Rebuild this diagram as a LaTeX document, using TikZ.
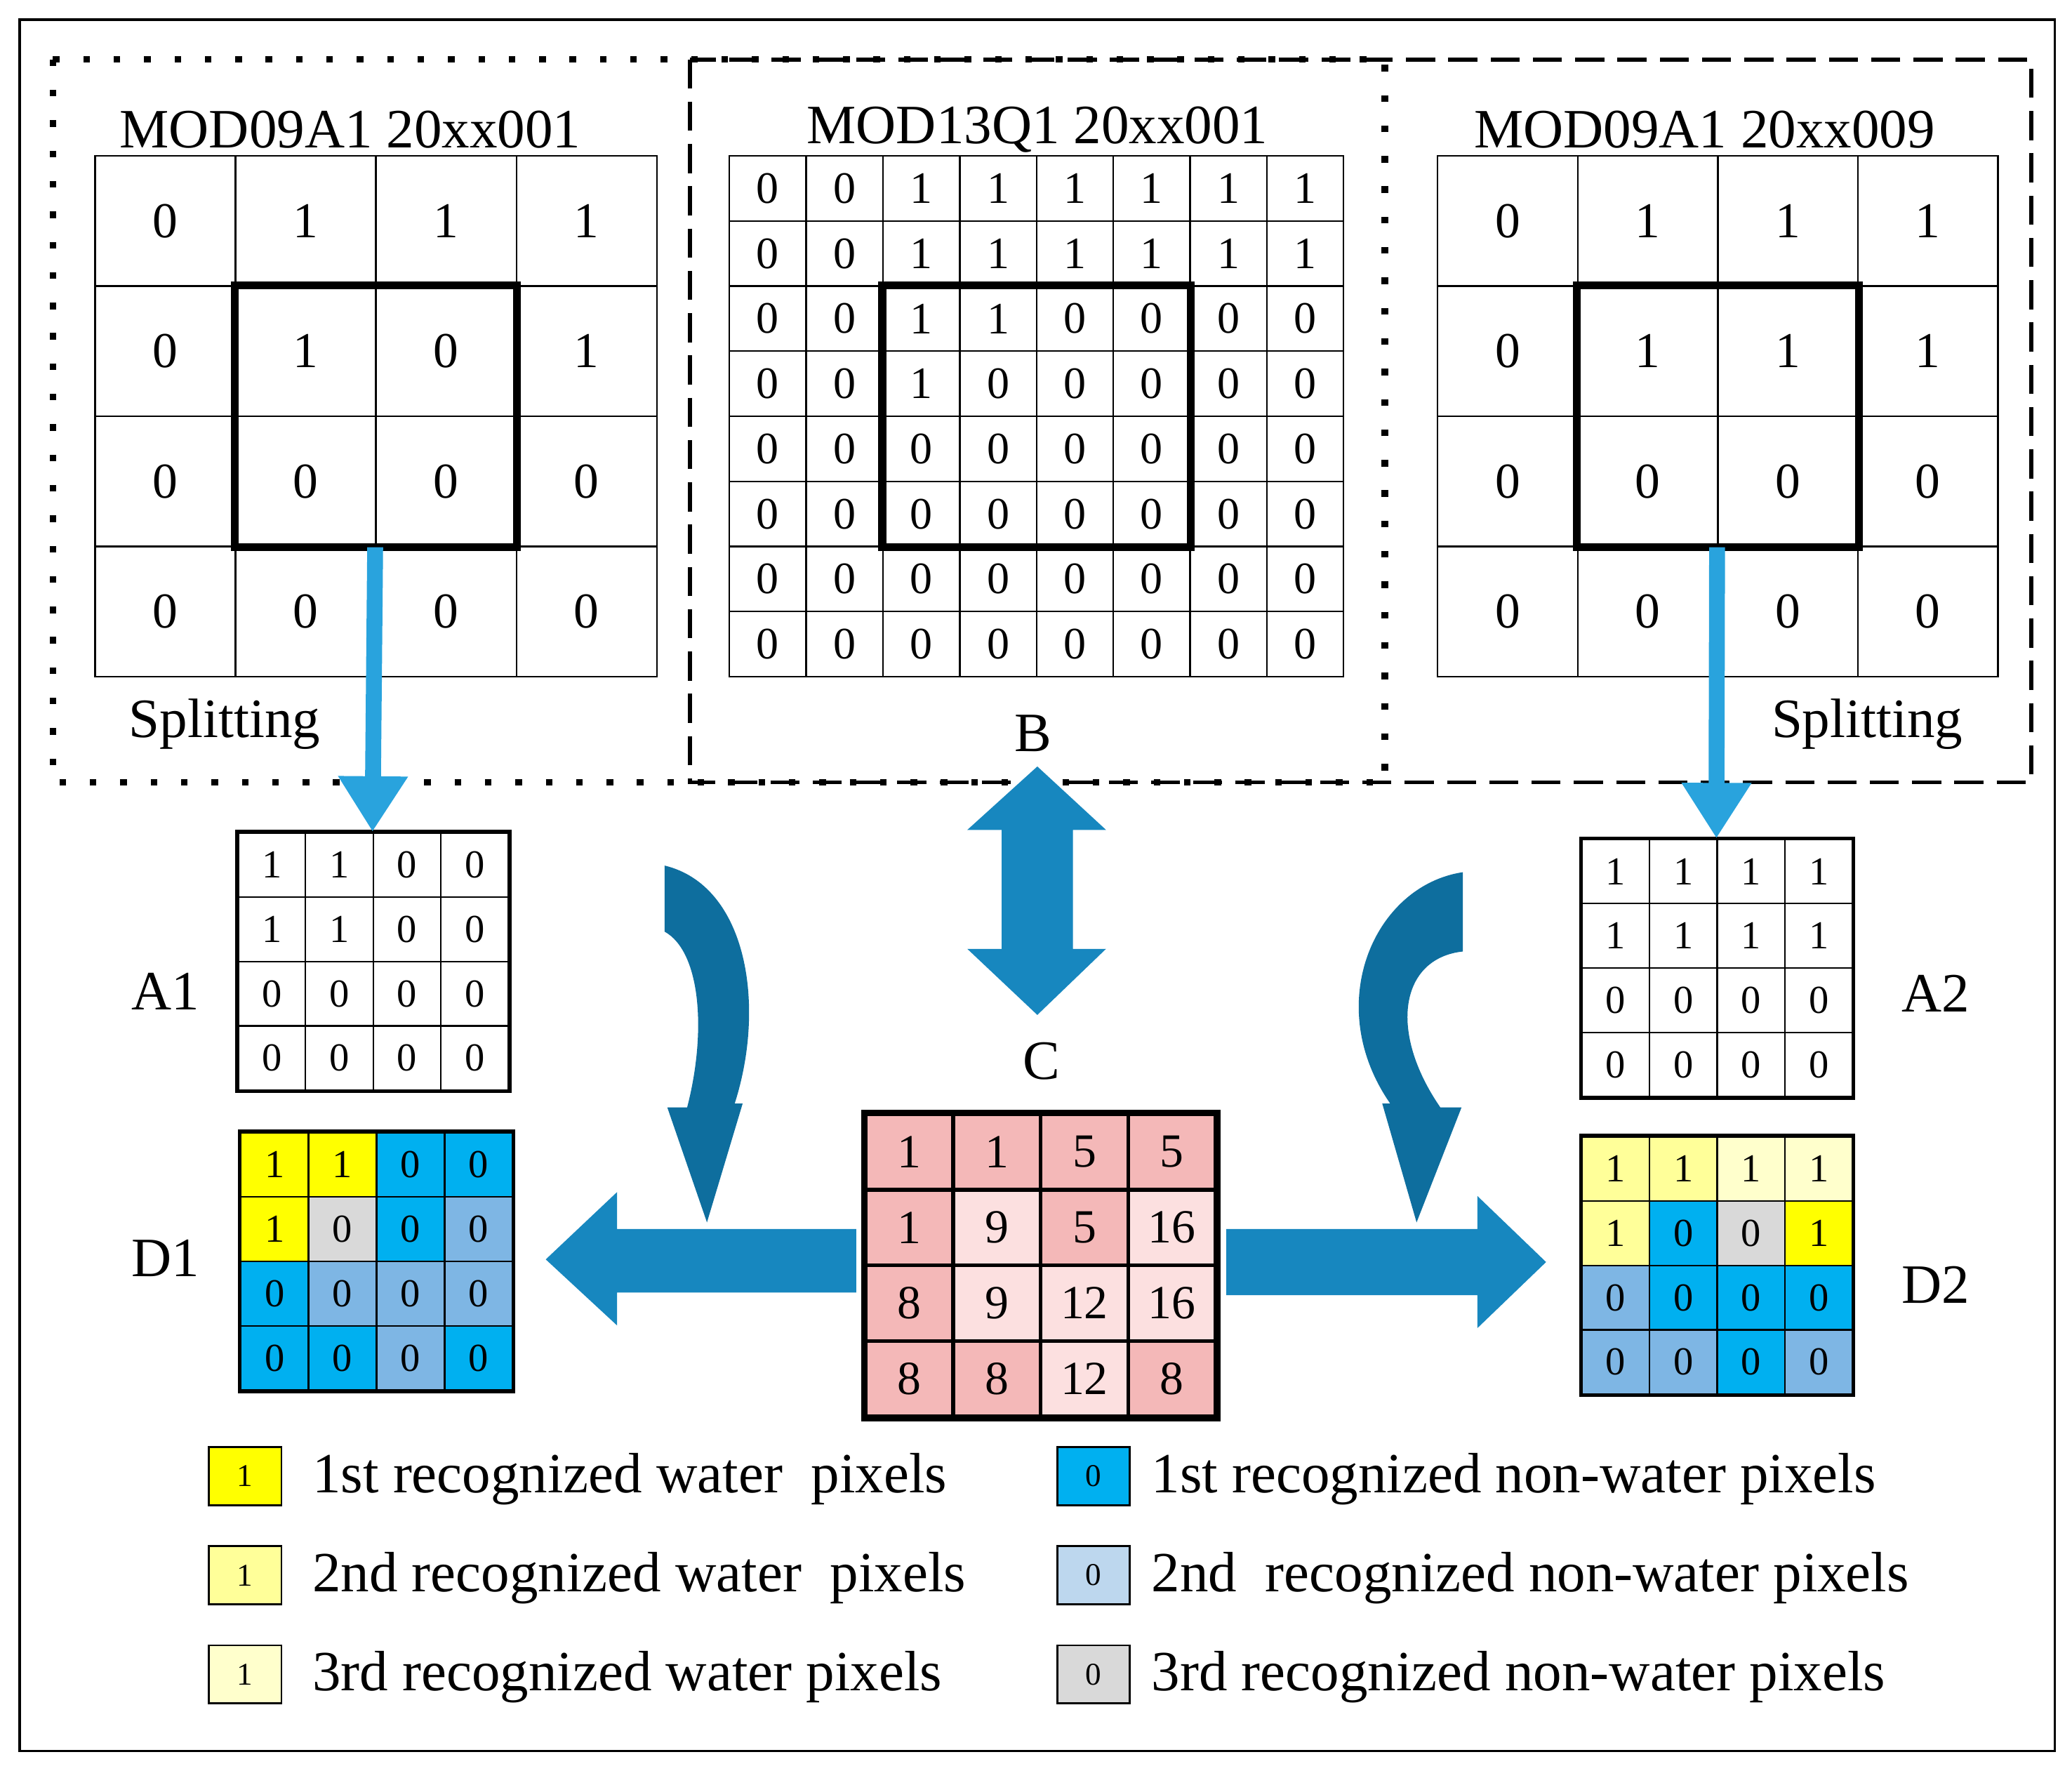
\documentclass[tikz,border=0pt]{standalone}
\usepackage{fontspec}
\usetikzlibrary{arrows.meta}
\setmainfont{Liberation Serif}
\begin{document}
\begin{tikzpicture}[x=1pt,y=-1pt,
  cell/.style={draw,line width=1.2pt,inner sep=0pt,anchor=center},
  lbl/.style={font=\fontsize{42}{42}\selectfont},
  leg/.style={font=\fontsize{43}{43}\selectfont},
  thick box/.style={draw,line width=6pt},
  splitarrow/.style={draw=cSplit,line width=12pt,-{Triangle[length=42pt,width=50pt]}},
  bigarrow/.style={fill=cArrow,draw=none},
  curvearrow/.style={fill=cCurve,draw=none}]
\definecolor{cY}{HTML}{FFFF00}
\definecolor{cL}{HTML}{FFFF99}
\definecolor{cP}{HTML}{FFFFCC}
\definecolor{cB}{HTML}{00B0F0}
\definecolor{cS}{HTML}{7EB6E4}
\definecolor{cT}{HTML}{BDD7EE}
\definecolor{cG}{HTML}{D9D9D9}
\definecolor{cD}{HTML}{F4B8B8}
\definecolor{cF}{HTML}{FCE0E0}
\definecolor{cSplit}{HTML}{29A3DD}
\definecolor{cArrow}{HTML}{1787BF}
\definecolor{cCurve}{HTML}{0E6E9E}
\useasboundingbox (0,0) rectangle (1568,1340);
\fill[white] (0,0) rectangle (1568,1340);
\draw[line width=2pt] (15,15) rectangle (1555,1325);
\draw[line width=5pt,dash pattern=on 5pt off 18pt] (40,45) rectangle (1048,592);
\draw[line width=3pt,dash pattern=on 22pt off 10pt] (522,45) rectangle (1537,592);
% left top grid
\foreach \row [count=\i] in {{0,1,1,1},{0,1,0,1},{0,0,0,0},{0,0,0,0}}
  \foreach \v [count=\j] in \row
    \node[cell,minimum width=106.25pt,minimum height=98.5pt,font=\fontsize{38}{38}\selectfont] (L-\i-\j) at ({72+(\j-0.5)*106.25},{118+(\i-0.5)*98.5}) {\v};
\draw[thick box] (L-2-2.north west) rectangle (L-3-3.south east);
\node[lbl] (tL) at (265,98) {MOD09A1 20xx001};
% middle grid
\foreach \row [count=\i] in {{0,0,1,1,1,1,1,1},{0,0,1,1,1,1,1,1},{0,0,1,1,0,0,0,0},{0,0,1,0,0,0,0,0},{0,0,0,0,0,0,0,0},{0,0,0,0,0,0,0,0},{0,0,0,0,0,0,0,0},{0,0,0,0,0,0,0,0}}
  \foreach \v [count=\j] in \row
    \node[cell,minimum width=58.1pt,minimum height=49.25pt,font=\fontsize{34}{34}\selectfont] (M-\i-\j) at ({552+(\j-0.5)*58.1},{118+(\i-0.5)*49.25}) {\v};
\draw[thick box] (M-3-3.north west) rectangle (M-6-6.south east);
\node[lbl] (tM) at (785,98) {MOD13Q1 20xx001};
% right top grid
\foreach \row [count=\i] in {{0,1,1,1},{0,1,1,1},{0,0,0,0},{0,0,0,0}}
  \foreach \v [count=\j] in \row
    \node[cell,minimum width=106pt,minimum height=98.5pt,font=\fontsize{38}{38}\selectfont] (R-\i-\j) at ({1088+(\j-0.5)*106},{118+(\i-0.5)*98.5}) {\v};
\draw[thick box] (R-2-2.north west) rectangle (R-3-3.south east);
\node[lbl] (tR) at (1290,98) {MOD09A1 20xx009};
\node[lbl] (spL) at (170,548) {Splitting};
\node[lbl] (spR) at (1413,548) {Splitting};
\node[lbl] (lB) at (782,555) {B};
% A1, A2
\foreach \row [count=\i] in {{1,1,0,0},{1,1,0,0},{0,0,0,0},{0,0,0,0}}
  \foreach \v [count=\j] in \row
    \node[cell,minimum width=51.25pt,minimum height=48.75pt,font=\fontsize{30}{30}\selectfont] (A-\i-\j) at ({180+(\j-0.5)*51.25},{630+(\i-0.5)*48.75}) {\v};
\draw[line width=3pt] (A-1-1.north west) rectangle (A-4-4.south east);
\node[lbl] (lA1) at (125,750) {A1};
\foreach \row [count=\i] in {{1,1,1,1},{1,1,1,1},{0,0,0,0},{0,0,0,0}}
  \foreach \v [count=\j] in \row
    \node[cell,minimum width=51.25pt,minimum height=48.75pt,font=\fontsize{30}{30}\selectfont] (AA-\i-\j) at ({1197+(\j-0.5)*51.25},{635+(\i-0.5)*48.75}) {\v};
\draw[line width=3pt] (AA-1-1.north west) rectangle (AA-4-4.south east);
\node[lbl] (lA2) at (1465,752) {A2};
% splitting arrows
\coordinate (sa) at (L-3-3.south west);
\coordinate (sb) at (R-3-3.south west);
\draw[splitarrow] (sa) -- (A-1-3.north west);
\draw[splitarrow] (sb) -- (AA-1-3.north west);
% D1, D2
\foreach \row [count=\i] in {{Y/1,Y/1,B/0,B/0},{Y/1,G/0,B/0,S/0},{B/0,S/0,S/0,S/0},{B/0,B/0,S/0,B/0}}
  \foreach \c/\v [count=\j] in \row
    \node[cell,fill=c\c,minimum width=51.5pt,minimum height=48.75pt,font=\fontsize{30}{30}\selectfont] (D-\i-\j) at ({182+(\j-0.5)*51.5},{857+(\i-0.5)*48.75}) {\v};
\draw[line width=3pt] (D-1-1.north west) rectangle (D-4-4.south east);
\node[lbl] (lD1) at (125,952) {D1};
\foreach \row [count=\i] in {{L/1,L/1,P/1,P/1},{L/1,B/0,G/0,Y/1},{S/0,B/0,B/0,B/0},{S/0,S/0,B/0,S/0}}
  \foreach \c/\v [count=\j] in \row
    \node[cell,fill=c\c,minimum width=51.25pt,minimum height=48.75pt,font=\fontsize{30}{30}\selectfont] (DD-\i-\j) at ({1197+(\j-0.5)*51.25},{860+(\i-0.5)*48.75}) {\v};
\draw[line width=3pt] (DD-1-1.north west) rectangle (DD-4-4.south east);
\node[lbl] (lD2) at (1465,972) {D2};
% C
\foreach \row [count=\i] in {{D/1,D/1,D/5,D/5},{D/1,F/9,D/5,F/16},{D/8,F/9,F/12,F/16},{D/8,D/8,F/12,D/8}}
  \foreach \c/\v [count=\j] in \row
    \node[cell,fill=c\c,line width=3pt,minimum width=66.25pt,minimum height=57.25pt,font=\fontsize{36}{36}\selectfont] (C-\i-\j) at ({655+(\j-0.5)*66.25},{843+(\i-0.5)*57.25}) {\v};
\draw[line width=4pt] (C-1-1.north west) rectangle (C-4-4.south east);
\node[lbl] (lC) at (788,803) {C};
% double arrow B
\fill[bigarrow] (785,580) -- (837,628) -- (812,628) -- (812,718) -- (837,718) -- (785,768) -- (732,718) -- (758,718) -- (758,628) -- (732,628) -- cycle;
% big horizontal arrows
\fill[bigarrow] (648,930) -- (467,930) -- (467,902) -- (413,953) -- (467,1003) -- (467,978) -- (648,978) -- cycle;
\fill[bigarrow] (928,930) -- (1118,930) -- (1118,905) -- (1170,955) -- (1118,1005) -- (1118,980) -- (928,980) -- cycle;
% curved arrows
\fill[curvearrow] (503,655) .. controls (565,670) and (580,760) .. (556,835) -- (562,835) -- (535,925) -- (505,838) -- (520,838) .. controls (535,780) and (530,720) .. (503,705) -- cycle;
\fill[curvearrow] (1107,660) .. controls (1040,670) and (1000,760) .. (1052,835) -- (1046,835) -- (1072,925) -- (1106,838) -- (1090,838) .. controls (1050,780) and (1060,725) .. (1107,720) -- cycle;
% legend
\foreach \c/\v/\t [count=\k] in {Y/1/{1st recognized water\ \ pixels},L/1/{2nd recognized water\ \ pixels},P/1/{3rd recognized water pixels}}{
  \node[draw,line width=1.5pt,fill=c\c,minimum width=55pt,minimum height=44pt,inner sep=0pt,font=\fontsize{24}{24}\selectfont] (KL\k) at (185.5,{1117+(\k-1)*75}) {\v};
  \node[leg,anchor=west] (TL\k) at (233,{1119+(\k-1)*75}) {\t};
}
\foreach \c/\v/\t [count=\k] in {B/0/{1st recognized non-water pixels},T/0/{2nd\ \ recognized non-water pixels},G/0/{3rd recognized non-water pixels}}{
  \node[draw,line width=1.5pt,fill=c\c,minimum width=55pt,minimum height=44pt,inner sep=0pt,font=\fontsize{24}{24}\selectfont] (KR\k) at (827.5,{1117+(\k-1)*75}) {\v};
  \node[leg,anchor=west] (TR\k) at (868,{1119+(\k-1)*75}) {\t};
}
\end{tikzpicture}
\end{document}
